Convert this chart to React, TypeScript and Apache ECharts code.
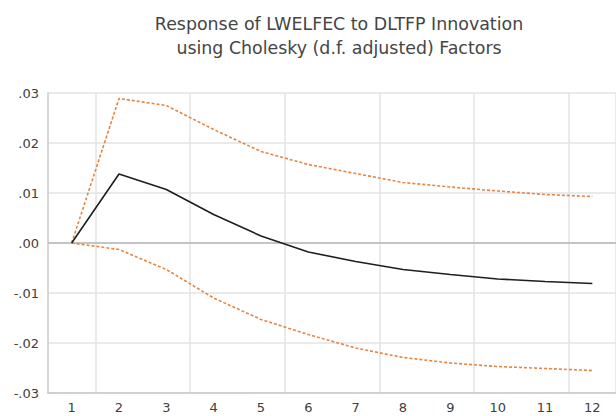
import React, { useEffect, useRef } from "react";
import * as echarts from "echarts";

const periods = ["1", "2", "3", "4", "5", "6", "7", "8", "9", "10", "11", "12"];
const response = [0, 0.0138, 0.0107, 0.0057, 0.0014, -0.0018, -0.0037, -0.0053, -0.0063, -0.0072, -0.0077, -0.0081];
const upperBand = [0, 0.0289, 0.0275, 0.0227, 0.0183, 0.0157, 0.0139, 0.0121, 0.0112, 0.0104, 0.0097, 0.0093];
const lowerBand = [0, -0.0013, -0.0053, -0.011, -0.0153, -0.0183, -0.021, -0.0229, -0.024, -0.0247, -0.0251, -0.0255];
const titleLines = ["Response of LWELFEC to DLTFP Innovation", "using Cholesky (d.f. adjusted) Factors"];

const fmt = (v: number) => {
  const r = Math.round(v * 100) / 100;
  if (Math.abs(r) < 1e-9) return ".00";
  const s = Math.abs(r).toFixed(2).replace(/^0/, "");
  return (r < 0 ? "-" : "") + s;
};

export default function App() {
  const ref = useRef<HTMLDivElement>(null);
  useEffect(() => {
    if (!ref.current) return;
    const chart = echarts.init(ref.current, null, { renderer: "svg" });
    const orange = "#E8843F";
    chart.setOption({
      animation: false,
      backgroundColor: "#ffffff",
      title: {
        text: titleLines.join("\n"),
        left: 334,
        textAlign: "center",
        top: 7,
        textStyle: {
          fontFamily: "DejaVu Sans",
          fontSize: 17.4,
          fontWeight: "normal",
          color: "#454545",
          lineHeight: 24,
        },
      },
      grid: { left: 48, right: -5, top: 93, bottom: 23 },
      xAxis: {
        type: "category",
        data: periods,
        boundaryGap: true,
        axisLine: { show: true, onZero: false, lineStyle: { color: "#c8c8c8", width: 1.5 } },
        axisTick: { show: false },
        axisLabel: { color: "#404040", fontFamily: "DejaVu Sans", fontSize: 13, margin: 8 },
        splitLine: {
          show: true,
          interval: (index: number) => index % 2 === 1,
          lineStyle: { color: "#e3e3e3", width: 1.5 },
        },
      },
      yAxis: {
        type: "value",
        min: -0.03,
        max: 0.03,
        interval: 0.01,
        axisLine: { show: true, lineStyle: { color: "#c8c8c8", width: 1.5 } },
        axisTick: { show: false },
        axisLabel: {
          formatter: fmt,
          color: "#404040",
          fontFamily: "DejaVu Sans",
          fontSize: 13,
          margin: 9,
        },
        splitLine: { show: true, lineStyle: { color: "#e3e3e3", width: 1.5 } },
      },
      series: [
        {
          type: "line",
          data: upperBand,
          symbol: "none",
          lineStyle: { color: orange, width: 1.6, type: [3, 2] },
          z: 3,
          markLine: {
            silent: true,
            symbol: "none",
            label: { show: false },
            lineStyle: { color: "#c4c4c4", width: 2.2, type: "solid" },
            data: [{ yAxis: 0 }],
            z: 1,
          },
        },
        {
          type: "line",
          data: lowerBand,
          symbol: "none",
          lineStyle: { color: orange, width: 1.6, type: [3, 2] },
          z: 3,
        },
        {
          type: "line",
          data: response,
          symbol: "none",
          lineStyle: { color: "#1e1e1e", width: 1.6 },
          z: 4,
        },
      ],
    });
    return () => chart.dispose();
  }, []);
  return <div ref={ref} style={{ width: 616, height: 416, position: "absolute", left: 0, top: 0 }} />;
}
